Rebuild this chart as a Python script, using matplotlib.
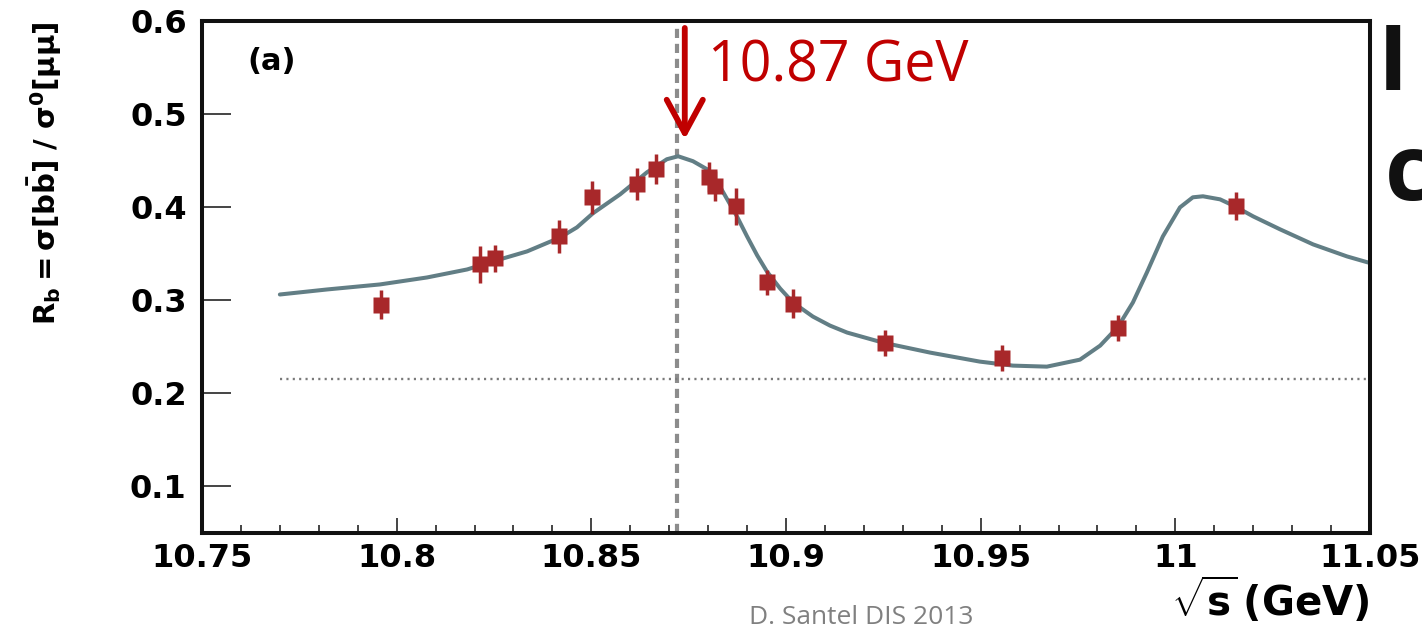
import matplotlib
matplotlib.use("Agg")
import matplotlib.pyplot as plt
from matplotlib.ticker import FixedLocator, MultipleLocator

plt.rcParams["mathtext.fontset"] = "custom"
plt.rcParams["mathtext.rm"] = "DejaVu Sans:bold"
plt.rcParams["mathtext.bf"] = "DejaVu Sans:bold"
plt.rcParams["mathtext.it"] = "DejaVu Sans:bold"
plt.rcParams["mathtext.sf"] = "DejaVu Sans:bold"

# Measured R_b values from the energy scan
sqrt_s = [10.7960, 10.8214, 10.8253, 10.8417, 10.8502, 10.8617, 10.8666,
          10.8802, 10.8818, 10.8872, 10.8951, 10.9018, 10.9254, 10.9555,
          10.9853, 11.0156]
r_b = [0.2954, 0.3385, 0.3449, 0.3686, 0.4106, 0.4246, 0.4407,
       0.4321, 0.4224, 0.4009, 0.3191, 0.2965, 0.2545, 0.2384,
       0.2707, 0.4009]
r_b_err = [0.016, 0.020, 0.014, 0.018, 0.018, 0.017, 0.016,
           0.016, 0.016, 0.020, 0.013, 0.016, 0.014, 0.014,
           0.014, 0.015]

# Fit curve samples
fit_x = [10.7700, 10.7821, 10.7957, 10.8078, 10.8181, 10.8247, 10.8335,
         10.8420, 10.8463, 10.8504, 10.8574, 10.8643, 10.8694, 10.8723,
         10.8761, 10.8797, 10.8830, 10.8874, 10.8900, 10.8926, 10.8951,
         10.8985, 10.9018, 10.9069, 10.9113, 10.9157, 10.9249, 10.9370,
         10.9498, 10.9583, 10.9670, 10.9755, 10.9807, 10.9853, 10.9891,
         10.9927, 10.9968, 11.0012, 11.0045, 11.0071, 11.0115, 11.0153,
         11.0200, 11.0269, 11.0354, 11.0441, 11.0495]
fit_y = [0.3062, 0.3116, 0.3170, 0.3245, 0.3331, 0.3417, 0.3525,
         0.3675, 0.3783, 0.3934, 0.4138, 0.4375, 0.4515, 0.4547,
         0.4494, 0.4408, 0.4224, 0.3901, 0.3686, 0.3482, 0.3309,
         0.3126, 0.2976, 0.2825, 0.2728, 0.2653, 0.2545, 0.2438,
         0.2341, 0.2298, 0.2287, 0.2362, 0.2513, 0.2717, 0.2976,
         0.3299, 0.3686, 0.3998, 0.4106, 0.4117, 0.4084, 0.4009,
         0.3901, 0.3762, 0.3600, 0.3471, 0.3406]

# Continuum level and peak marker
continuum_level = 0.2158
continuum_start = 10.770
fit_peak = 10.872
arrow_x = 10.874
arrow_top, arrow_tip = 0.5925, 0.473

x_ticks = [10.75, 10.80, 10.85, 10.90, 10.95, 11.00, 11.05]
x_tick_labels = ["10.75", "10.8", "10.85", "10.9", "10.95", "11", "11.05"]
y_ticks = [0.1, 0.2, 0.3, 0.4, 0.5, 0.6]
y_tick_labels = ["0.1", "0.2", "0.3", "0.4", "0.5", "0.6"]

fig = plt.figure(figsize=(14.22, 6.32), dpi=100)
ax = fig.add_axes([0.14205, 0.15665, 0.82138, 0.81013])
ax.set_xlim(10.75, 11.05)
ax.set_ylim(0.05, 0.6)

point_color = "#a8282a"
curve_color = "#627e85"

ax.axvline(fit_peak, color="#8c8c8c", lw=3.0, ls=(0, (2.2, 1.4)), zorder=1)
ax.plot([continuum_start, 11.05], [continuum_level, continuum_level],
        color="#7a7a7a", lw=1.7, ls=(0, (0.9, 1.8)), zorder=1)
ax.plot(fit_x, fit_y, color=curve_color, lw=2.9, solid_joinstyle="round",
        solid_capstyle="round", zorder=2)
ax.errorbar(sqrt_s, r_b, yerr=r_b_err, fmt="s", ms=11.5, color=point_color,
            mec="none", ecolor=point_color, elinewidth=2.5, capsize=0, zorder=4)

for side in ax.spines.values():
    side.set_linewidth(2.9)
    side.set_color("#111111")

ax.xaxis.set_major_locator(FixedLocator(x_ticks))
ax.set_xticklabels(x_tick_labels)
ax.xaxis.set_minor_locator(MultipleLocator(0.01))
ax.yaxis.set_major_locator(FixedLocator(y_ticks))
ax.set_yticklabels(y_tick_labels)

ax.tick_params(axis="x", which="major", direction="in", length=10.5, width=1.4,
               color="#444444", pad=7, labelsize=23)
ax.tick_params(axis="x", which="minor", direction="in", length=5.5, width=1.4,
               color="#444444")
ax.tick_params(axis="y", which="major", direction="in", length=21, width=1.4,
               color="#444444", pad=11, labelsize=23)
for lab in ax.get_xticklabels() + ax.get_yticklabels():
    lab.set_fontweight("bold")
    lab.set_family("DejaVu Sans")

ax.text(0.039, 0.92, "(a)", transform=ax.transAxes, fontsize=22,
        fontweight="bold", va="center", ha="left")

ax.annotate("", xy=(arrow_x, arrow_tip), xytext=(arrow_x, arrow_top),
            arrowprops=dict(arrowstyle="->,head_length=1.2,head_width=0.65",
                            color="#c00000", lw=4.2, shrinkA=0, shrinkB=0,
                            mutation_scale=20),
            zorder=6, annotation_clip=False)
ax.text(10.8799, 0.5355, f"{arrow_x:.2f} GeV", color="#c00000", fontsize=40,
        family="Open Sans", ha="left", va="baseline", zorder=6)

fig.text(0.0316, 0.726, r"$\mathrm{R_b = \sigma[b\bar{b}]\ /\ \sigma^0[\mu\mu]}$",
         rotation=90, ha="center", va="center", fontsize=21)
fig.text(0.9634, 0.0506, r"$\sqrt{\mathrm{s}}\,\mathrm{(GeV)}$",
         ha="right", va="center", fontsize=29)
fig.text(0.6055, 0.0237, "D. Santel DIS 2013", color="#808080", fontsize=19,
         family="Open Sans", ha="center", va="center")

fig.text(0.969, 0.8576, "I", fontsize=66, family="Open Sans", fontweight="bold",
         ha="left", va="baseline", color="#111111")
fig.text(0.974, 0.6835, "c", fontsize=66, family="Open Sans", fontweight="bold",
         ha="left", va="baseline", color="#111111")

fig.savefig("out.png", dpi=100, facecolor="white")
